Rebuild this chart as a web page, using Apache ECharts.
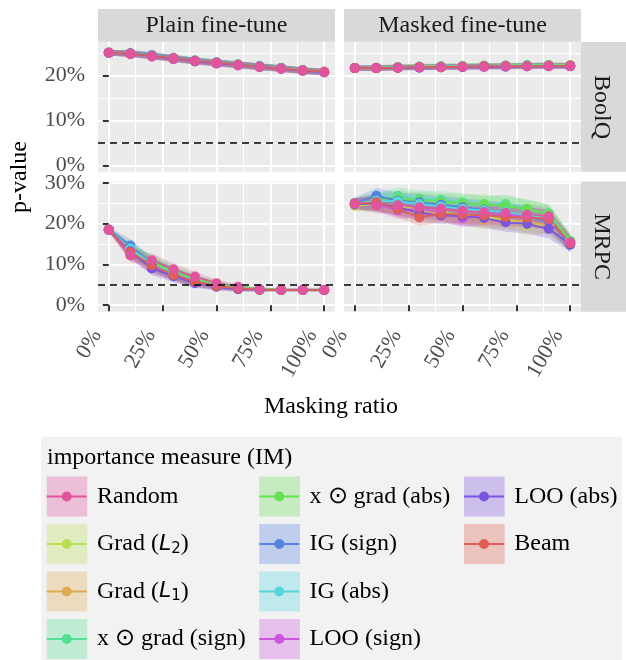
<!DOCTYPE html>
<html><head><meta charset="utf-8">
<script src="https://cdn.jsdelivr.net/npm/echarts@6/dist/echarts.min.js"></script>
<style>html,body{margin:0;padding:0;background:#fff}#c{width:626px;height:660px}</style>
</head><body><div id="c"></div>
<script>
// ---------------- data ----------------
const maskingRatio = [0, 10, 20, 30, 40, 50, 60, 70, 80, 90, 100];
const xTicks = [0, 25, 50, 75, 100];
const xMinorTicks = [12.5, 37.5, 62.5, 87.5];
const yTicksBoolQ = [0, 10, 20];
const yTicksMRPC = [0, 10, 20, 30];
const yMinorTicks = [5, 15, 25];
const threshold = 5;
const stripTop = ['Plain fine-tune', 'Masked fine-tune'];
const stripRight = ['BoolQ', 'MRPC'];

const imNames = ['Random', 'Grad (L2)', 'Grad (L1)', 'x \u2299 grad (sign)', 'x \u2299 grad (abs)',
  'IG (sign)', 'IG (abs)', 'LOO (sign)', 'LOO (abs)', 'Beam'];
const imColors = ['#E0559E', '#BADF55', '#DFAB55', '#55DF92', '#67DF55',
  '#5583DF', '#55D6DF', '#CE55DF', '#7B55DF', '#DF5E55'];

// p-value (%) per importance measure, in imNames order
const boolqPlain = [
  [25.0, 24.8, 24.2, 23.7, 23.2, 22.7, 22.3, 21.9, 21.5, 21.0, 20.7],
  [25.0, 24.9, 24.3, 23.6, 23.1, 22.8, 22.4, 21.9, 21.6, 21.1, 20.7],
  [25.0, 24.8, 24.3, 23.7, 23.2, 22.7, 22.3, 22.0, 21.5, 21.1, 20.8],
  [25.0, 24.9, 24.4, 23.8, 23.3, 22.8, 22.4, 22.0, 21.6, 21.1, 20.7],
  [25.0, 24.8, 24.3, 23.7, 23.2, 22.8, 22.4, 21.9, 21.5, 21.0, 20.7],
  [25.0, 24.9, 24.5, 23.9, 23.3, 22.9, 22.4, 22.0, 21.6, 21.1, 20.7],
  [25.0, 24.8, 24.4, 23.8, 23.2, 22.8, 22.3, 21.9, 21.6, 21.1, 20.8],
  [25.0, 24.7, 24.2, 23.6, 23.1, 22.6, 22.2, 21.8, 21.4, 21.0, 20.7],
  [25.0, 24.8, 24.3, 23.7, 23.1, 22.7, 22.3, 21.9, 21.5, 21.0, 20.7],
  [25.0, 24.8, 24.3, 23.8, 23.2, 22.8, 22.3, 21.9, 21.5, 21.1, 20.8]
];
const boolqMasked = [
  [21.6, 21.6, 21.7, 21.8, 21.8, 21.9, 21.9, 22.0, 22.0, 22.0, 22.1],
  [21.6, 21.7, 21.8, 21.9, 22.0, 22.1, 22.1, 22.2, 22.3, 22.3, 22.3],
  [21.6, 21.6, 21.8, 21.9, 21.9, 22.0, 22.0, 22.1, 22.2, 22.2, 22.2],
  [21.6, 21.7, 21.8, 21.9, 22.0, 22.0, 22.1, 22.2, 22.2, 22.3, 22.2],
  [21.6, 21.7, 21.8, 21.9, 21.9, 22.0, 22.1, 22.1, 22.2, 22.2, 22.2],
  [21.6, 21.6, 21.7, 21.8, 21.9, 21.9, 22.0, 22.0, 22.1, 22.1, 22.1],
  [21.6, 21.7, 21.7, 21.8, 21.9, 22.0, 22.0, 22.1, 22.1, 22.2, 22.1],
  [21.6, 21.6, 21.7, 21.8, 21.8, 21.9, 21.9, 22.0, 22.0, 22.1, 22.0],
  [21.6, 21.6, 21.7, 21.7, 21.8, 21.8, 21.9, 21.9, 22.0, 22.0, 22.0],
  [21.6, 21.6, 21.7, 21.8, 21.8, 21.9, 22.0, 22.0, 22.0, 22.1, 22.1]
];
const mrpcPlain = [
  [18.5, 12.2, 11.0, 8.8, 7.0, 5.4, 4.5, 3.9, 3.7, 3.7, 3.7],
  [18.5, 13.5, 10.0, 7.8, 6.0, 4.8, 4.2, 3.9, 3.7, 3.7, 3.7],
  [18.5, 13.8, 10.2, 7.5, 5.9, 4.8, 4.1, 3.8, 3.7, 3.7, 3.7],
  [18.5, 13.0, 10.5, 8.0, 6.3, 5.0, 4.3, 3.9, 3.7, 3.7, 3.7],
  [18.5, 13.2, 10.6, 8.2, 6.4, 5.1, 4.3, 3.9, 3.7, 3.7, 3.7],
  [18.5, 14.6, 10.0, 7.6, 5.8, 4.7, 4.1, 3.8, 3.7, 3.7, 3.7],
  [18.5, 13.9, 10.1, 7.7, 5.9, 4.8, 4.1, 3.8, 3.7, 3.7, 3.7],
  [18.5, 12.6, 9.4, 7.6, 5.7, 4.6, 4.0, 3.8, 3.7, 3.7, 3.7],
  [18.5, 13.2, 9.0, 7.1, 5.4, 4.5, 3.9, 3.8, 3.7, 3.7, 3.7],
  [18.5, 13.0, 9.8, 7.4, 5.8, 4.7, 4.1, 3.8, 3.7, 3.7, 3.7]
];
const mrpcMasked = [
  [24.8, 24.4, 24.5, 24.0, 23.6, 23.2, 22.8, 22.6, 22.2, 21.8, 15.4],
  [24.3, 24.8, 24.2, 23.4, 22.9, 22.0, 21.6, 21.0, 19.5, 19.8, 15.5],
  [24.6, 24.9, 24.0, 23.3, 22.5, 21.8, 20.9, 21.0, 20.4, 19.6, 15.3],
  [25.0, 25.5, 26.8, 26.0, 25.8, 25.2, 24.4, 24.8, 23.3, 22.5, 15.8],
  [24.8, 25.4, 26.0, 25.6, 25.2, 24.9, 24.8, 24.2, 23.6, 22.3, 15.6],
  [25.0, 26.8, 25.6, 25.2, 24.6, 24.0, 23.4, 22.8, 21.8, 20.6, 14.8],
  [24.8, 25.6, 25.4, 24.8, 24.2, 23.6, 23.2, 22.8, 22.0, 21.2, 15.0],
  [25.0, 24.8, 23.2, 23.6, 22.8, 21.3, 22.0, 22.2, 21.6, 21.0, 15.2],
  [24.7, 25.0, 24.0, 22.6, 22.0, 21.8, 21.3, 20.3, 19.9, 18.7, 14.9],
  [24.9, 25.2, 23.5, 21.5, 22.4, 22.2, 22.0, 21.6, 21.5, 21.2, 15.2]
];
// half-width of the confidence band (%) per masking ratio
const boolqPlainCI = [0.6, 0.7, 0.7, 0.7, 0.7, 0.7, 0.7, 0.7, 0.7, 0.7, 0.7];
const boolqMaskedCI = [0.6, 0.6, 0.6, 0.6, 0.6, 0.6, 0.6, 0.6, 0.6, 0.6, 0.6];
const mrpcPlainCI = [0.5, 1.6, 1.7, 1.5, 1.2, 0.9, 0.6, 0.4, 0.3, 0.3, 0.3];
const mrpcMaskedCI = [1.3, 1.9, 2.0, 2.1, 2.1, 2.2, 2.3, 2.3, 2.4, 2.3, 1.9];

// ---------------- layout / style ----------------
const FONT = "'Liberation Serif', 'Times New Roman', serif";
const PW = 237;
const panels = [
  {data: boolqPlain, ci: boolqPlainCI, ticks: yTicksBoolQ, left: 98, top: 42, height: 129.7, yMin: -1.4, yMax: 27.4, bottom: false, leftCol: true},
  {data: boolqMasked, ci: boolqMaskedCI, ticks: yTicksBoolQ, left: 344, top: 42, height: 129.7, yMin: -1.4, yMax: 27.4, bottom: false, leftCol: false},
  {data: mrpcPlain, ci: mrpcPlainCI, ticks: yTicksMRPC, left: 98, top: 181.5, height: 130.2, yMin: -1.6, yMax: 30.3, bottom: true, leftCol: true},
  {data: mrpcMasked, ci: mrpcMaskedCI, ticks: yTicksMRPC, left: 344, top: 181.5, height: 130.2, yMin: -1.6, yMax: 30.3, bottom: true, leftCol: false}
];

function rgba(hex, a) {
  const n = parseInt(hex.slice(1), 16);
  return 'rgba(' + (n >> 16) + ',' + ((n >> 8) & 255) + ',' + (n & 255) + ',' + a + ')';
}

const grids = [], xAxes = [], yAxes = [];
panels.forEach((P, p) => {
  grids.push({left: P.left, top: P.top, width: PW, height: P.height, show: true,
    backgroundColor: '#EBEBEB', borderWidth: 0, containLabel: false, outerBoundsMode: 'none'});
  // visible value axis: ticks, labels, major grid
  xAxes[p] = {gridIndex: p, type: 'value', position: 'bottom', min: -5, max: 105,
    axisLine: {show: false},
    axisTick: {show: P.bottom, customValues: xTicks, length: 6, lineStyle: {color: '#333333', width: 2}},
    axisLabel: {show: P.bottom, customValues: xTicks, rotate: 60, formatter: v => v + '%',
      fontFamily: FONT, fontSize: 22, color: '#4D4D4D', margin: 21,
      verticalAlign: 'bottom', padding: [0, 5, 0, 0]},
    splitLine: {show: true, lineStyle: {color: '#FFFFFF', width: 2}}};
  // minor grid
  xAxes[4 + p] = {gridIndex: p, type: 'value', position: 'top', min: -5, max: 105,
    axisLine: {show: false}, axisTick: {show: false, customValues: xMinorTicks},
    axisLabel: {show: false}, splitLine: {show: true, lineStyle: {color: '#FFFFFF', width: 1}}};
  // data axis (one slot per masking ratio)
  xAxes[8 + p] = {gridIndex: p, type: 'category', position: 'top', data: maskingRatio,
    boundaryGap: true, show: false};
  yAxes[p] = {gridIndex: p, type: 'value', position: 'left', min: P.yMin, max: P.yMax,
    axisLine: {show: false},
    axisTick: {show: P.leftCol, customValues: P.ticks, length: 6, lineStyle: {color: '#333333', width: 2}},
    axisLabel: {show: P.leftCol, customValues: P.ticks, formatter: '{value}%',
      fontFamily: FONT, fontSize: 22, color: '#4D4D4D', margin: 13},
    splitLine: {show: true, lineStyle: {color: '#FFFFFF', width: 2}}};
  yAxes[4 + p] = {gridIndex: p, type: 'value', position: 'right', min: P.yMin, max: P.yMax,
    axisLine: {show: false}, axisTick: {show: false, customValues: yMinorTicks},
    axisLabel: {show: false}, splitLine: {show: true, lineStyle: {color: '#FFFFFF', width: 1}}};
});

const series = [];
// lines (first, so legends take their icons from them)
panels.forEach((P, p) => {
  imNames.forEach((name, i) => {
    const s = {type: 'line', name, xAxisIndex: 8 + p, yAxisIndex: p, z: 3, silent: true,
      data: P.data[i], symbol: 'circle', showSymbol: false,
      lineStyle: {color: imColors[i], width: 1.8}, itemStyle: {color: imColors[i], borderWidth: 0}};
    if (i === 0) {
      s.markLine = {silent: true, symbol: 'none', label: {show: false},
        lineStyle: {color: '#000000', type: [7, 5], width: 1.6}, data: [{yAxis: threshold}]};
    }
    series.push(s);
  });
});
// confidence ribbons
panels.forEach((P, p) => {
  imNames.forEach((name, i) => {
    const st = 'band' + p + '_' + i;
    series.push({type: 'line', name, xAxisIndex: 8 + p, yAxisIndex: p, z: 2, silent: true, stack: st,
      symbol: 'none', lineStyle: {opacity: 0},
      data: P.data[i].map((v, k) => v - P.ci[k])});
    series.push({type: 'line', name, xAxisIndex: 8 + p, yAxisIndex: p, z: 2, silent: true, stack: st,
      symbol: 'none', lineStyle: {opacity: 0}, areaStyle: {color: imColors[i], opacity: 0.25},
      data: P.ci.map(c => 2 * c)});
  });
});
// points (Random drawn last, on top)
const pointOrder = [1, 2, 3, 4, 5, 6, 7, 8, 9, 0];
panels.forEach((P, p) => {
  pointOrder.forEach(i => {
    series.push({type: 'scatter', name: imNames[i], xAxisIndex: 8 + p, yAxisIndex: p, z: 4, silent: true,
      symbolSize: 10, itemStyle: {color: imColors[i], opacity: 1},
      data: P.data[i]});
  });
});

// legends
const legendCols = [[0, 1, 2, 3], [4, 5, 6, 7], [8, 9]];
const legendLefts = [46.7, 259.3, 464];
const keyIcon = 'path://M0,0M40,40M0,19L40,19L40,21L0,21ZM25,20A5,5,0,1,1,15,20A5,5,0,1,1,25,20Z';
function fmtName(name) {
  if (name === 'Grad (L2)') return 'Grad ({it|L}{sub|2})';
  if (name === 'Grad (L1)') return 'Grad ({it|L}{sub|1})';
  return name;
}
const legends = [];
legendCols.forEach((col, c) => {
  legends.push({orient: 'vertical', left: legendLefts[c], top: 476.5, padding: 0,
    itemWidth: 40.6, itemHeight: 40, itemGap: 7.5, selectedMode: false,
    formatter: () => '',
    data: col.map(i => ({name: imNames[i], icon: 'rect',
      itemStyle: {color: rgba(imColors[i], 0.32), borderWidth: 0}}))});
  legends.push({orient: 'vertical', left: legendLefts[c], top: 476.5, padding: 0,
    itemWidth: 40.6, itemHeight: 40, itemGap: 7.5, selectedMode: false,
    icon: keyIcon, itemStyle: {borderWidth: 0},
    formatter: fmtName,
    textStyle: {fontFamily: FONT, fontSize: 24, color: '#000000', padding: [0, 0, 0, 5],
      rich: {
        it: {fontFamily: "'DejaVu Sans', sans-serif", fontStyle: 'italic', fontSize: 22, color: '#000000'},
        sub: {fontFamily: "'DejaVu Sans', sans-serif", fontSize: 15, color: '#000000', padding: [10, 0, 0, 0]}
      }},
    data: col.map(i => imNames[i])});
});

const txt = (text, x, y, size, color, rot, align) => ({type: 'text', x, y, rotation: rot || 0, silent: true,
  style: {text, fontFamily: FONT, fontSize: size, fill: color, align: align || 'center', verticalAlign: 'middle'}});

const graphic = [
  {type: 'rect', silent: true, z: -10, shape: {x: 41, y: 436.7, width: 581, height: 230}, style: {fill: '#F2F2F2'}},
  {type: 'rect', silent: true, shape: {x: 98, y: 9, width: PW, height: 32.7}, style: {fill: '#D9D9D9'}},
  {type: 'rect', silent: true, shape: {x: 344, y: 9, width: PW, height: 32.7}, style: {fill: '#D9D9D9'}},
  {type: 'rect', silent: true, shape: {x: 581, y: 42, width: 45, height: 129.7}, style: {fill: '#D9D9D9'}},
  {type: 'rect', silent: true, shape: {x: 581, y: 181.5, width: 45, height: 130.2}, style: {fill: '#D9D9D9'}},
  txt(stripTop[0], 98 + PW / 2, 25.5, 24, '#1A1A1A'),
  txt(stripTop[1], 344 + PW / 2, 25.5, 24, '#1A1A1A'),
  txt(stripRight[0], 601, 107, 24, '#1A1A1A', -Math.PI / 2),
  txt(stripRight[1], 601, 246.6, 24, '#1A1A1A', -Math.PI / 2),
  txt('p-value', 20, 177, 24, '#000000', Math.PI / 2),
  txt('Masking ratio', 331, 407, 24, '#000000'),
  txt('importance measure (IM)', 47, 458, 24, '#000000', 0, 'left')
];

const chart = echarts.init(document.getElementById('c'), null, {renderer: 'canvas'});
chart.setOption({
  animation: false,
  backgroundColor: '#FFFFFF',
  grid: grids, xAxis: xAxes, yAxis: yAxes,
  legend: legends,
  graphic,
  series
});
</script></body></html>
